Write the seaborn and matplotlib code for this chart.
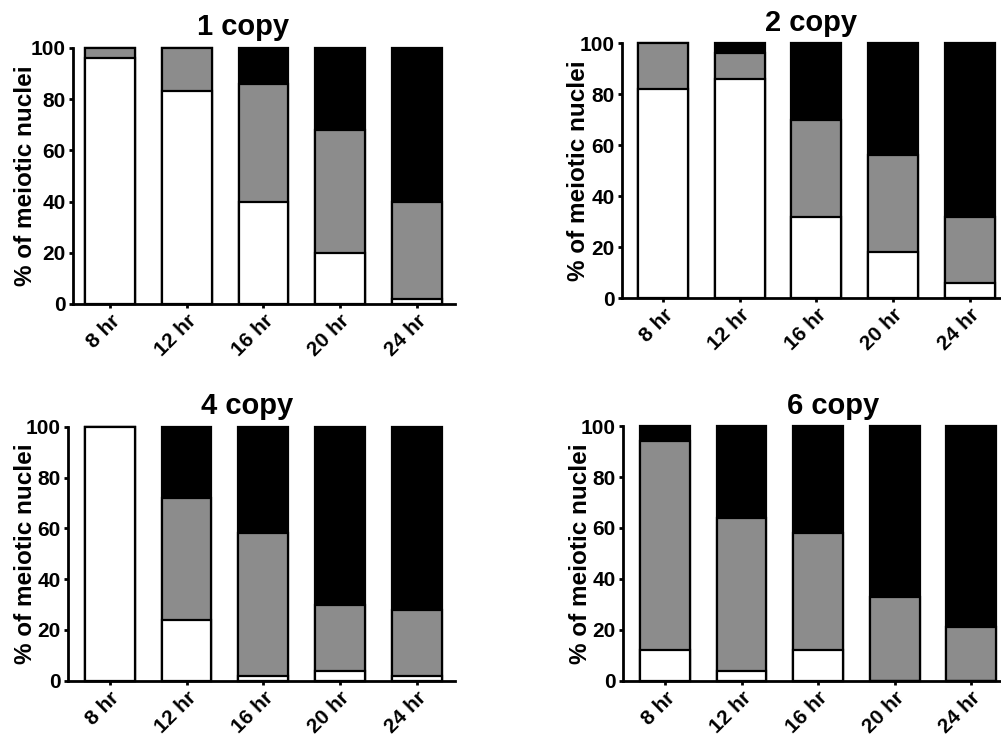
import matplotlib
matplotlib.use("Agg")
import matplotlib.pyplot as plt
import seaborn as sns
import pandas as pd

times = ["8 hr", "12 hr", "16 hr", "20 hr", "24 hr"]
titles = ["1 copy", "2 copy", "4 copy", "6 copy"]

white_1 = [96, 83, 40, 20, 2]
gray_1 = [4, 17, 46, 48, 38]
black_1 = [0, 0, 14, 32, 60]

white_2 = [82, 86, 32, 18, 6]
gray_2 = [18, 10, 38, 38, 26]
black_2 = [0, 4, 30, 44, 68]

white_4 = [100, 24, 2, 4, 2]
gray_4 = [0, 48, 56, 26, 26]
black_4 = [0, 28, 42, 70, 72]

white_6 = [12, 4, 12, 0, 0]
gray_6 = [82, 60, 46, 33, 21]
black_6 = [6, 36, 42, 67, 79]

panels = [
    (white_1, gray_1, black_1),
    (white_2, gray_2, black_2),
    (white_4, gray_4, black_4),
    (white_6, gray_6, black_6),
]

sns.set_style("ticks")
plt.rcParams["font.family"] = ["Liberation Sans", "DejaVu Sans"]
plt.rcParams["font.weight"] = "bold"
for k in ["text.color", "axes.labelcolor", "xtick.color", "ytick.color",
          "axes.edgecolor"]:
    plt.rcParams[k] = "black"

FW, FH = 1001, 736
fig = plt.figure(figsize=(FW / 100, FH / 100), dpi=100)

# [left, bottom, width, height], xlim-left, title x (axes frac), ylabel anchor px
layout = [
    ([0.0726, 0.587, 0.382, 0.348], -0.49, 0.445, 37),
    ([0.621, 0.5947, 0.386, 0.3465], -0.54, 0.491, 590),
    ([0.0676, 0.0751, 0.387, 0.345], -0.55, 0.463, 37),
    ([0.6224, 0.0751, 0.386, 0.346], -0.55, 0.543, 592),
]

GRAY = "#8c8c8c"

for (w, g, b), title, (pos, xl, tx, ylx) in zip(panels, titles, layout):
    ax = fig.add_axes(pos)
    df = pd.DataFrame({"time": times, "white": w, "gray": g, "black": b})
    df["lvl1"] = df["white"]
    df["lvl2"] = df["white"] + df["gray"]
    df["lvl3"] = df["white"] + df["gray"] + df["black"]
    for col, colr in [("lvl3", "black"), ("lvl2", GRAY), ("lvl1", "white")]:
        sns.barplot(data=df, x="time", y=col, order=times, color=colr,
                    saturation=1, edgecolor="black", linewidth=1.6,
                    width=0.65, errorbar=None, ax=ax)
    for p in ax.patches:
        p.set_clip_on(False)
    ax.set_xlim(xl, 4.5)
    ax.set_ylim(0, 100)
    ax.set_yticks([0, 20, 40, 60, 80, 100])
    ax.set_xlabel("")
    ax.set_ylabel("% of meiotic nuclei", fontsize=17.5, fontweight="bold")
    ax.yaxis.set_label_coords((ylx - pos[0] * FW) / (pos[2] * FW), 0.5)
    ax.set_title(title, fontsize=21, fontweight="bold", x=tx, pad=9)
    sns.despine(ax=ax)
    for s in ["left", "bottom"]:
        ax.spines[s].set_linewidth(2)
        ax.spines[s].set_color("black")
    ax.tick_params(axis="both", length=3.2, width=2, color="black",
                   labelsize=15, pad=2)
    for lab in ax.get_yticklabels():
        lab.set_fontweight("bold")
    for lab in ax.get_xticklabels():
        lab.set_fontweight("bold")
        lab.set_rotation(45)
        lab.set_ha("right")
        lab.set_va("top")
        lab.set_rotation_mode("anchor")

fig.savefig("out.png", dpi=100)
